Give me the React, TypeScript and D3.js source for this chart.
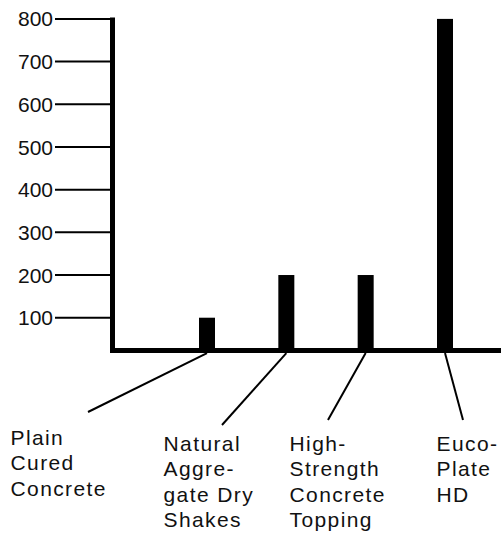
import * as d3 from "d3";
import React from "react";

// categories and values
const categories = [
  "Plain Cured Concrete",
  "Natural Aggregate Dry Shakes",
  "High-Strength Concrete Topping",
  "Euco-Plate HD",
];
const values = [100, 200, 200, 800];
const labelLines = [
  ["Plain", "Cured", "Concrete"],
  ["Natural", "Aggre-", "gate Dry", "Shakes"],
  ["High-", "Strength", "Concrete", "Topping"],
  ["Euco-", "Plate", "HD"],
];
const yTicks = [100, 200, 300, 400, 500, 600, 700, 800];
const axisFloor = 23; // value where the horizontal axis sits

// layout of the category labels and where the leader lines end
const labelPos = [
  { x: 10.5, y: 445, lx: 88, ly: 412 },
  { x: 163.5, y: 451, lx: 222, ly: 425 },
  { x: 289.5, y: 451, lx: 328, ly: 420 },
  { x: 436.5, y: 451, lx: 463, ly: 420 },
];

const width = 503;
const height = 535;
const barWidth = 16;
const font = "'Liberation Sans', Arial, Helvetica, sans-serif";

const App = () => {
  const yScale = d3.scaleLinear().domain([0, 800]).range([360.4, 18.9]);
  const xScale = d3.scalePoint<string>().domain(categories).range([207, 445]);
  const baseY = yScale(axisFloor);
  const axisX = 112.5;

  return (
    <svg
      width={width}
      height={height}
      style={{ position: "absolute", left: 0, top: 0, background: "#fff" }}
    >
      {/* ticks */}
      {yTicks.map((t) => (
        <g key={t}>
          <line x1={55} x2={axisX} y1={yScale(t)} y2={yScale(t)} stroke="#000" strokeWidth={2} />
          <text
            x={53}
            y={yScale(t)}
            dy="0.36em"
            textAnchor="end"
            fontFamily={font}
            fontSize={21}
            fill="#111"
          >
            {t}
          </text>
        </g>
      ))}

      {/* bars */}
      {values.map((v, i) => (
        <rect
          key={categories[i]}
          x={(xScale(categories[i]) as number) - barWidth / 2}
          y={yScale(v)}
          width={barWidth}
          height={baseY - yScale(v)}
          fill="#000"
        />
      ))}

      {/* axes */}
      <line x1={axisX} x2={axisX} y1={yScale(800) - 1.5} y2={baseY + 2.5} stroke="#000" strokeWidth={5} />
      <line x1={axisX - 2.5} x2={501} y1={baseY} y2={baseY} stroke="#000" strokeWidth={5} />

      {/* leader lines and labels */}
      {categories.map((c, i) => {
        const p = labelPos[i];
        return (
          <g key={c}>
            <line
              x1={xScale(c) as number}
              y1={baseY + 2.5}
              x2={p.lx}
              y2={p.ly}
              stroke="#000"
              strokeWidth={2}
            />
            <text x={p.x} y={p.y} fontFamily={font} fontSize={21} letterSpacing={1.4} fill="#111">
              {labelLines[i].map((s, k) => (
                <tspan key={k} x={p.x} y={p.y + k * 25.3}>
                  {s}
                </tspan>
              ))}
            </text>
          </g>
        );
      })}
    </svg>
  );
};

export default App;
